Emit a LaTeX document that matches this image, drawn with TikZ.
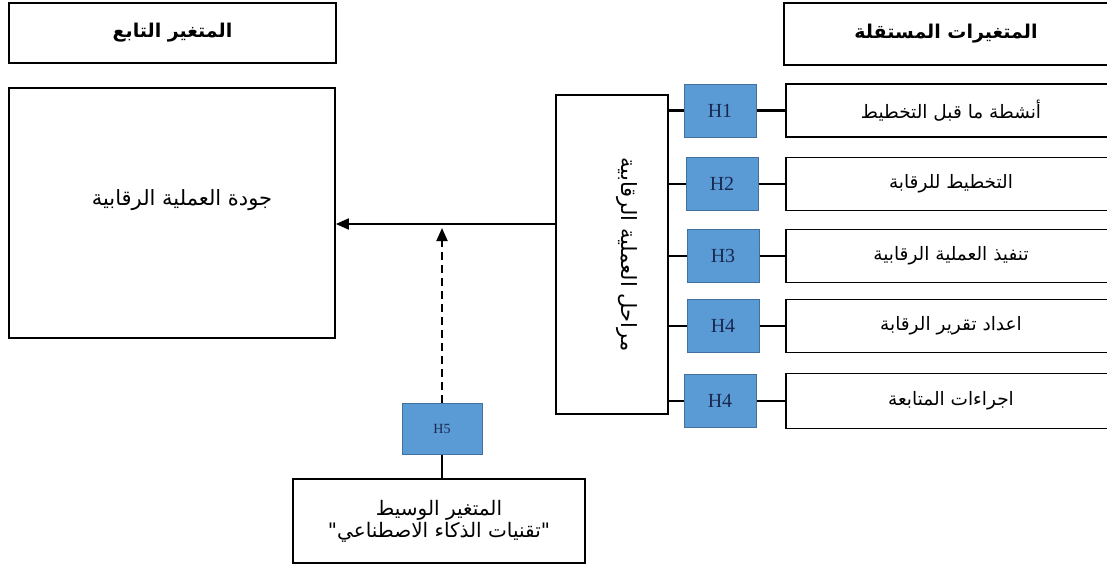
\documentclass[tikz,border=0pt]{standalone}
\usepackage{fontspec}
\usepackage{graphicx}
\setmainfont{Liberation Serif}
\newfontfamily\arabicfont[Script=Arabic]{DejaVu Sans}
\TeXXeTstate=1
\usetikzlibrary{arrows.meta,calc}
\newcommand{\artxt}[1]{\arabicfont\beginR #1\endR}
\definecolor{hypfill}{RGB}{91,155,213}
\definecolor{hypdraw}{RGB}{65,113,156}
\definecolor{hyptext}{RGB}{25,40,80}

\begin{document}
\begin{tikzpicture}[x=1pt,y=-1pt,>={Triangle[length=13pt,width=11pt]},
  hdr/.style={rectangle,draw=black,line width=2.4pt,inner sep=0pt,minimum height=60pt,font=\bfseries\fontsize{19}{22}\selectfont},
  box/.style={rectangle,draw=black,line width=1.8pt,inner sep=0pt,font=\fontsize{18.5}{22}\selectfont,align=center},
  hyp/.style={rectangle,draw=hypdraw,fill=hypfill,line width=1pt,minimum width=72pt,minimum height=53pt,inner sep=0pt,text=hyptext,font=\fontsize{20}{22}\selectfont},
  var/.style={box,minimum width=330pt,minimum height=53pt},
  ln/.style={line width=2.5pt,black},
  ar/.style={->,line width=2pt,black}]
\useasboundingbox (0,0) rectangle (1107,565);
\node[hdr,minimum width=327pt](dep) at (172.5,33){\artxt{المتغير التابع}};
\node[hdr,minimum width=324pt,minimum height=62pt](indep) at (946,34){\artxt{المتغيرات المستقلة}};
\node[box,minimum width=326pt,minimum height=250pt,font=\fontsize{21}{24}\selectfont](qual) at (172,213){\hspace*{20pt}\raisebox{30pt}{\artxt{جودة العملية الرقابية}}};
\node[box,minimum width=112pt,minimum height=319pt,font=\fontsize{21}{24}\selectfont](stages) at (612,254.5){\hspace*{30pt}\rotatebox{-90}{\artxt{مراحل العملية الرقابية}}};
\node[hyp](h1) at (720,110.5){H1};
\node[hyp](h2) at (722,184){H2};
\node[hyp](h3) at (723,256){H3};
\node[hyp](h4) at (723,326){H4};
\node[hyp](h4b) at (720,401){H4};
\node[var](v1) at (951,110.5){\artxt{أنشطة ما قبل التخطيط}};
\node[var](v2) at (951,184){\artxt{التخطيط للرقابة}};
\node[var](v3) at (951,256){\artxt{تنفيذ العملية الرقابية}};
\node[var](v4) at (951,326){\artxt{اعداد تقرير الرقابة}};
\node[var,minimum height=55pt](v5) at (951,401){\artxt{اجراءات المتابعة}};
\node[hyp,minimum width=80pt,minimum height=51pt,font=\fontsize{14}{16}\selectfont](h5) at (442,428.5){H5};
\node[box,minimum width=292pt,minimum height=84pt,font=\fontsize{20}{22}\selectfont](med) at (439,521){\artxt{المتغير الوسيط}\\\artxt{"تقنيات الذكاء الاصطناعي"}};
\coordinate (m) at (556,224);
\draw[ar](stages.west |- m)--(qual.east |- m);
\draw[ar,dash pattern=on 8pt off 5pt,shorten >=4pt](h5)--(h5.north |- m);
\draw[ln](h5.south)--(h5.south |- med.north);
\draw[ln](h1.west -| stages.east)--(h1);\draw[ln](h1)--(v1);
\draw[ln](h2.west -| stages.east)--(h2);\draw[ln](h2)--(v2);
\draw[ln](h3.west -| stages.east)--(h3);\draw[ln](h3)--(v3);
\draw[ln](h4.west -| stages.east)--(h4);\draw[ln](h4)--(v4);
\draw[ln](h4b.west -| stages.east)--(h4b);\draw[ln](h4b)--(v5);
\end{tikzpicture}
\end{document}
